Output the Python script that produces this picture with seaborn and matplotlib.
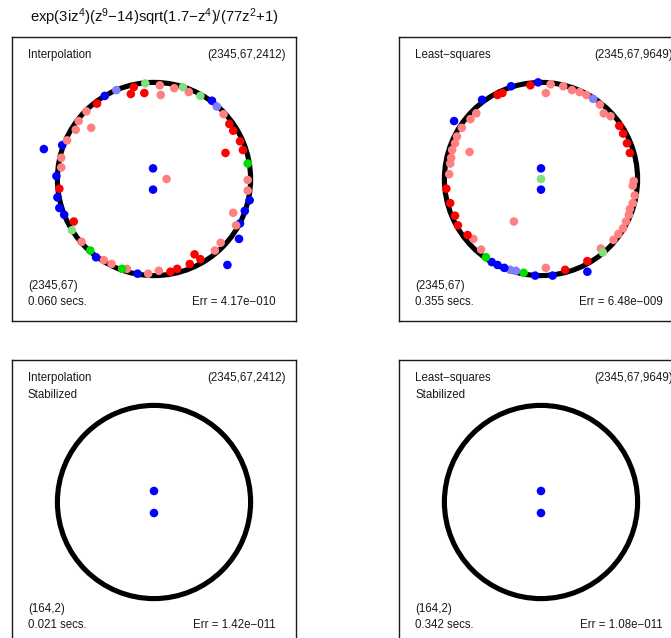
import numpy as np
import pandas as pd
import matplotlib
matplotlib.use("Agg")
import matplotlib.pyplot as plt
from matplotlib.patches import Circle
import seaborn as sns

# ---------------------------------------------------------------------------
# Poles of the rational approximants (real part, imaginary part, colour class)
# ---------------------------------------------------------------------------
interp_re = [-0.09, 0.06, 0.21, 0.30, 0.36, 0.48, 0.60, 0.65, 0.72, 0.78,
             0.82, 0.89, 0.92, 0.74, 0.97, 0.97, 0.97, 0.99, 0.94, 0.82,
             0.89, 0.85, 0.88, 0.69, 0.63, 0.42, 0.48, 0.37, 0.76, 0.24,
             0.17, 0.05, -0.06, -0.17, -0.28, -0.33, -0.44, -0.52, -0.60, -0.66,
             -0.75, -0.85, -0.83, -0.93, -0.98, -1.00, -0.98, -1.01, -0.96, -0.96,
             -0.95, -1.14, -0.90, -0.81, -0.78, -0.65, -0.70, -0.59, -0.51, -0.39,
             -0.24, -0.21, -0.10, 0.07, 0.13, -0.01, -0.01]
interp_im = [0.99, 0.97, 0.94, 0.95, 0.90, 0.86, 0.81, 0.75, 0.67, 0.57,
             0.50, 0.39, 0.30, 0.27, 0.16, -0.01, -0.12, -0.22, -0.33, -0.35,
             -0.46, -0.48, -0.62, -0.66, -0.74, -0.78, -0.83, -0.88, -0.89, -0.93,
             -0.96, -0.95, -0.98, -0.98, -0.93, -0.93, -0.88, -0.84, -0.81, -0.74,
             -0.65, -0.53, -0.44, -0.37, -0.30, -0.19, -0.10, 0.03, 0.12, 0.22,
             0.35, 0.31, 0.40, 0.51, 0.60, 0.53, 0.70, 0.78, 0.86, 0.92,
             0.88, 0.95, 0.89, 0.87, 0.00, 0.11, -0.11]
interp_cls = ["lg", "s", "s", "lg", "s", "lg", "b", "lb", "s", "r",
              "r", "r", "r", "r", "g", "s", "s", "b", "b", "s",
              "b", "s", "b", "s", "s", "r", "r", "r", "b", "r",
              "r", "s", "s", "b", "s", "g", "s", "s", "b", "g",
              "s", "lg", "r", "b", "b", "b", "r", "b", "s", "s",
              "b", "b", "s", "s", "s", "s", "s", "r", "b", "lb",
              "r", "r", "r", "s", "s", "b", "b"]

lsq_re = [-0.11, -0.03, 0.10, 0.05, 0.23, 0.32, 0.40, 0.47, 0.54, 0.61,
          0.65, 0.72, 0.81, 0.85, 0.89, 0.92, 0.96, 0.95, 0.97, 0.95,
          0.92, 0.91, 0.88, 0.85, 0.80, 0.75, 0.62, 0.64, 0.48, 0.48,
          0.25, 0.05, 0.12, -0.06, -0.18, -0.26, -0.32, -0.38, -0.45, -0.51,
          -0.57, -0.62, -0.70, -0.76, -0.86, -0.89, -0.94, -0.98, -0.95, -0.94,
          -0.93, -0.92, -0.89, -0.87, -0.82, -0.73, -0.67, -0.74, -0.28, -0.90,
          -0.61, -0.45, -0.40, -0.31, 0.00, 0.00, 0.00]
lsq_im = [0.97, 1.00, 0.98, 0.89, 0.96, 0.92, 0.90, 0.87, 0.83, 0.77,
          0.68, 0.65, 0.55, 0.47, 0.37, 0.27, -0.02, -0.07, -0.17, -0.25,
          -0.31, -0.37, -0.44, -0.51, -0.57, -0.63, -0.72, -0.76, -0.85, -0.96,
          -0.94, -0.92, -1.00, -1.00, -0.97, -0.95, -0.94, -0.92, -0.89, -0.86,
          -0.81, -0.73, -0.62, -0.58, -0.48, -0.38, -0.25, -0.10, 0.05, 0.16,
          0.22, 0.30, 0.37, 0.44, 0.53, 0.62, 0.68, 0.28, -0.44, 0.60,
          0.82, 0.87, 0.89, 0.96, 0.11, 0.00, -0.11]
lsq_cls = ["r", "b", "s", "s", "s", "s", "s", "s", "lb", "s",
           "s", "s", "r", "r", "r", "r", "s", "s", "s", "s",
           "s", "s", "s", "s", "s", "s", "s", "lg", "r", "b",
           "r", "s", "b", "b", "g", "lb", "lb", "b", "b", "b",
           "g", "s", "s", "r", "r", "r", "r", "r", "s", "s",
           "s", "s", "s", "s", "s", "s", "s", "s", "s", "b",
           "b", "r", "r", "b", "b", "lg", "b"]

# Stabilized runs keep only the two genuine poles at z = +/- i/sqrt(77)
stab_re = [0.0, 0.0]
stab_im = [0.114, -0.114]
stab_cls = ["b", "b"]

palette = {"b": "#0000FF", "r": "#FF0000", "s": "#FF8080",
           "g": "#00DD00", "lg": "#80E080", "lb": "#8080FF"}

CONTOUR_RADIUS = 1.0
VIEW_HALF = 1.47

panels = [
    dict(re=interp_re, im=interp_im, cls=interp_cls,
         method="Interpolation", extra=None, sizes="(2345,67,2412)",
         deg="(2345,67)", time="0.060 secs.", err="Err = 4.17e\u2212010"),
    dict(re=lsq_re, im=lsq_im, cls=lsq_cls,
         method="Least\u2212squares", extra=None, sizes="(2345,67,9649)",
         deg="(2345,67)", time="0.355 secs.", err="Err = 6.48e\u2212009"),
    dict(re=stab_re, im=stab_im, cls=stab_cls,
         method="Interpolation", extra="Stabilized", sizes="(2345,67,2412)",
         deg="(164,2)", time="0.021 secs.", err="Err = 1.42e\u2212011"),
    dict(re=stab_re, im=stab_im, cls=stab_cls,
         method="Least\u2212squares", extra="Stabilized", sizes="(2345,67,9649)",
         deg="(164,2)", time="0.342 secs.", err="Err = 1.08e\u2212011"),
]

sns.set_style("white")
plt.rcParams["font.family"] = ["Liberation Sans", "DejaVu Sans"]
plt.rcParams["mathtext.fontset"] = "custom"
plt.rcParams["mathtext.rm"] = "Liberation Sans"

W, H = 671, 638
fig = plt.figure(figsize=(W / 100, H / 100), dpi=100)

# panel boxes in pixels: left, top, size
boxes = [(12, 37), (399, 37), (12, 360), (399, 360)]
SIZE = 284

for (left, top), p in zip(boxes, panels):
    ax = fig.add_axes([left / W, 1 - (top + SIZE) / H, SIZE / W, SIZE / H])
    ax.add_patch(Circle((0, 0), CONTOUR_RADIUS, fill=False,
                        edgecolor="black", linewidth=3.7, zorder=1))
    df = pd.DataFrame({"re": p["re"], "im": p["im"], "cls": p["cls"]})
    sns.scatterplot(data=df, x="re", y="im", hue="cls", palette=palette,
                    s=38, linewidth=0, legend=False, ax=ax, zorder=2)
    ax.set_xlim(-VIEW_HALF, VIEW_HALF)
    ax.set_ylim(-VIEW_HALF, VIEW_HALF)
    ax.set_xticks([])
    ax.set_yticks([])
    ax.set_xlabel("")
    ax.set_ylabel("")
    for sp in ax.spines.values():
        sp.set_visible(True)
        sp.set_color("#1a1a1a")
        sp.set_linewidth(1.0)

    fs = 8.3
    tc = "#1a1a1a"
    xl = 16 / SIZE
    xr_top = 1 - 10 / SIZE
    xr_err = 1 - 20 / SIZE
    ax.text(xl, 1 - 18 / SIZE, p["method"], transform=ax.transAxes,
            ha="left", va="center", fontsize=fs, color=tc)
    ax.text(xr_top, 1 - 18 / SIZE, p["sizes"], transform=ax.transAxes,
            ha="right", va="center", fontsize=fs, color=tc)
    if p["extra"]:
        ax.text(xl, 1 - 35 / SIZE, p["extra"], transform=ax.transAxes,
                ha="left", va="center", fontsize=fs, color=tc)
    ax.text(xl, 1 - 249 / SIZE, p["deg"], transform=ax.transAxes,
            ha="left", va="center", fontsize=fs, color=tc)
    ax.text(xl, 1 - 265 / SIZE, p["time"], transform=ax.transAxes,
            ha="left", va="center", fontsize=fs, color=tc)
    ax.text(xr_err, 1 - 265 / SIZE, p["err"], transform=ax.transAxes,
            ha="right", va="center", fontsize=fs, color=tc)

fig.text(154 / W, 1 - 17 / H,
         "exp(3iz$\\mathregular{^4}$)(z$\\mathregular{^9}$\u221214)sqrt(1.7\u2212z$\\mathregular{^4}$)/(77z$\\mathregular{^2}$+1)",
         ha="center", va="center", fontsize=10.7, color="#111111")

fig.savefig("out.png", dpi=100)
